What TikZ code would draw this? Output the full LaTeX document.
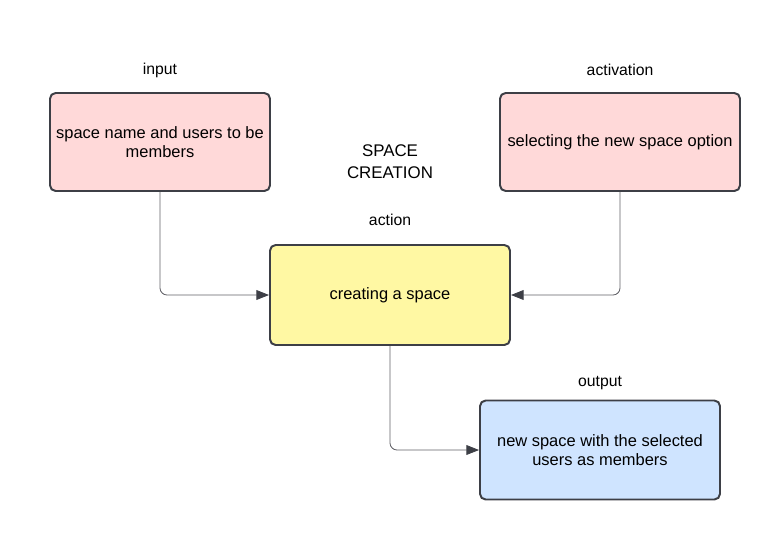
\documentclass[tikz,border=0pt]{standalone}
\usepackage{fontspec}
\setmainfont{Liberation Sans}
\usetikzlibrary{arrows.meta}
\definecolor{boxline}{HTML}{3D3F46}
\definecolor{pinkfill}{HTML}{FFD9D9}
\definecolor{yellowfill}{HTML}{FFF8A3}
\definecolor{bluefill}{HTML}{CFE4FF}
\definecolor{wire}{HTML}{606066}
\tikzset{
	block/.style = {draw = boxline, line width = 1.4pt, rounded corners = 4pt,
		minimum height = 98*0.025cm, align = center, font = \fontsize{11.7}{13.6}\selectfont},
	caption/.style = {font = \fontsize{11.2}{13}\selectfont},
	wire/.style = {draw = wire, line width = .6pt, rounded corners = 5pt,
		-{Triangle[length = 9pt, width = 7pt, color = boxline]}}
}
\begin{document}
\begin{tikzpicture}[x = .025cm, y = -.025cm]
	\useasboundingbox (0, 0) rectangle (780, 540);
	
	% boxes
	\node [block, fill = pinkfill, minimum width = 220*0.025cm] (input) at (160, 142) {space name and users to be\\members};
	\node [block, fill = pinkfill, minimum width = 240*0.025cm] (activation) at (620, 142) {selecting the new space option};
	\node [block, fill = yellowfill, minimum width = 240*0.025cm, minimum height = 100*0.025cm] (action) at (390, 295) {creating a space};
	\node [block, fill = bluefill, minimum width = 240*0.025cm, minimum height = 99*0.025cm] (output) at (600, 450) {new space with the selected\\users as members};
	
	% labels
	\node [caption] (inputlbl) at (160, 70) {input};
	\node [caption] (activationlbl) at (620, 70) {activation};
	\node [caption] (actionlbl) at (390, 220) {action};
	\node [caption] (outputlbl) at (600, 383) {output};
	\node [caption, align = center, font = \fontsize{12}{15.5}\selectfont] (title) at (390, 162) {SPACE\\CREATION};
	
	% lines
	\draw [wire] (input.south) |- (action.west);
	\draw [wire] (activation.south) |- (action.east);
	\draw [wire] (action.south) |- (output.west);
\end{tikzpicture}
\end{document}
